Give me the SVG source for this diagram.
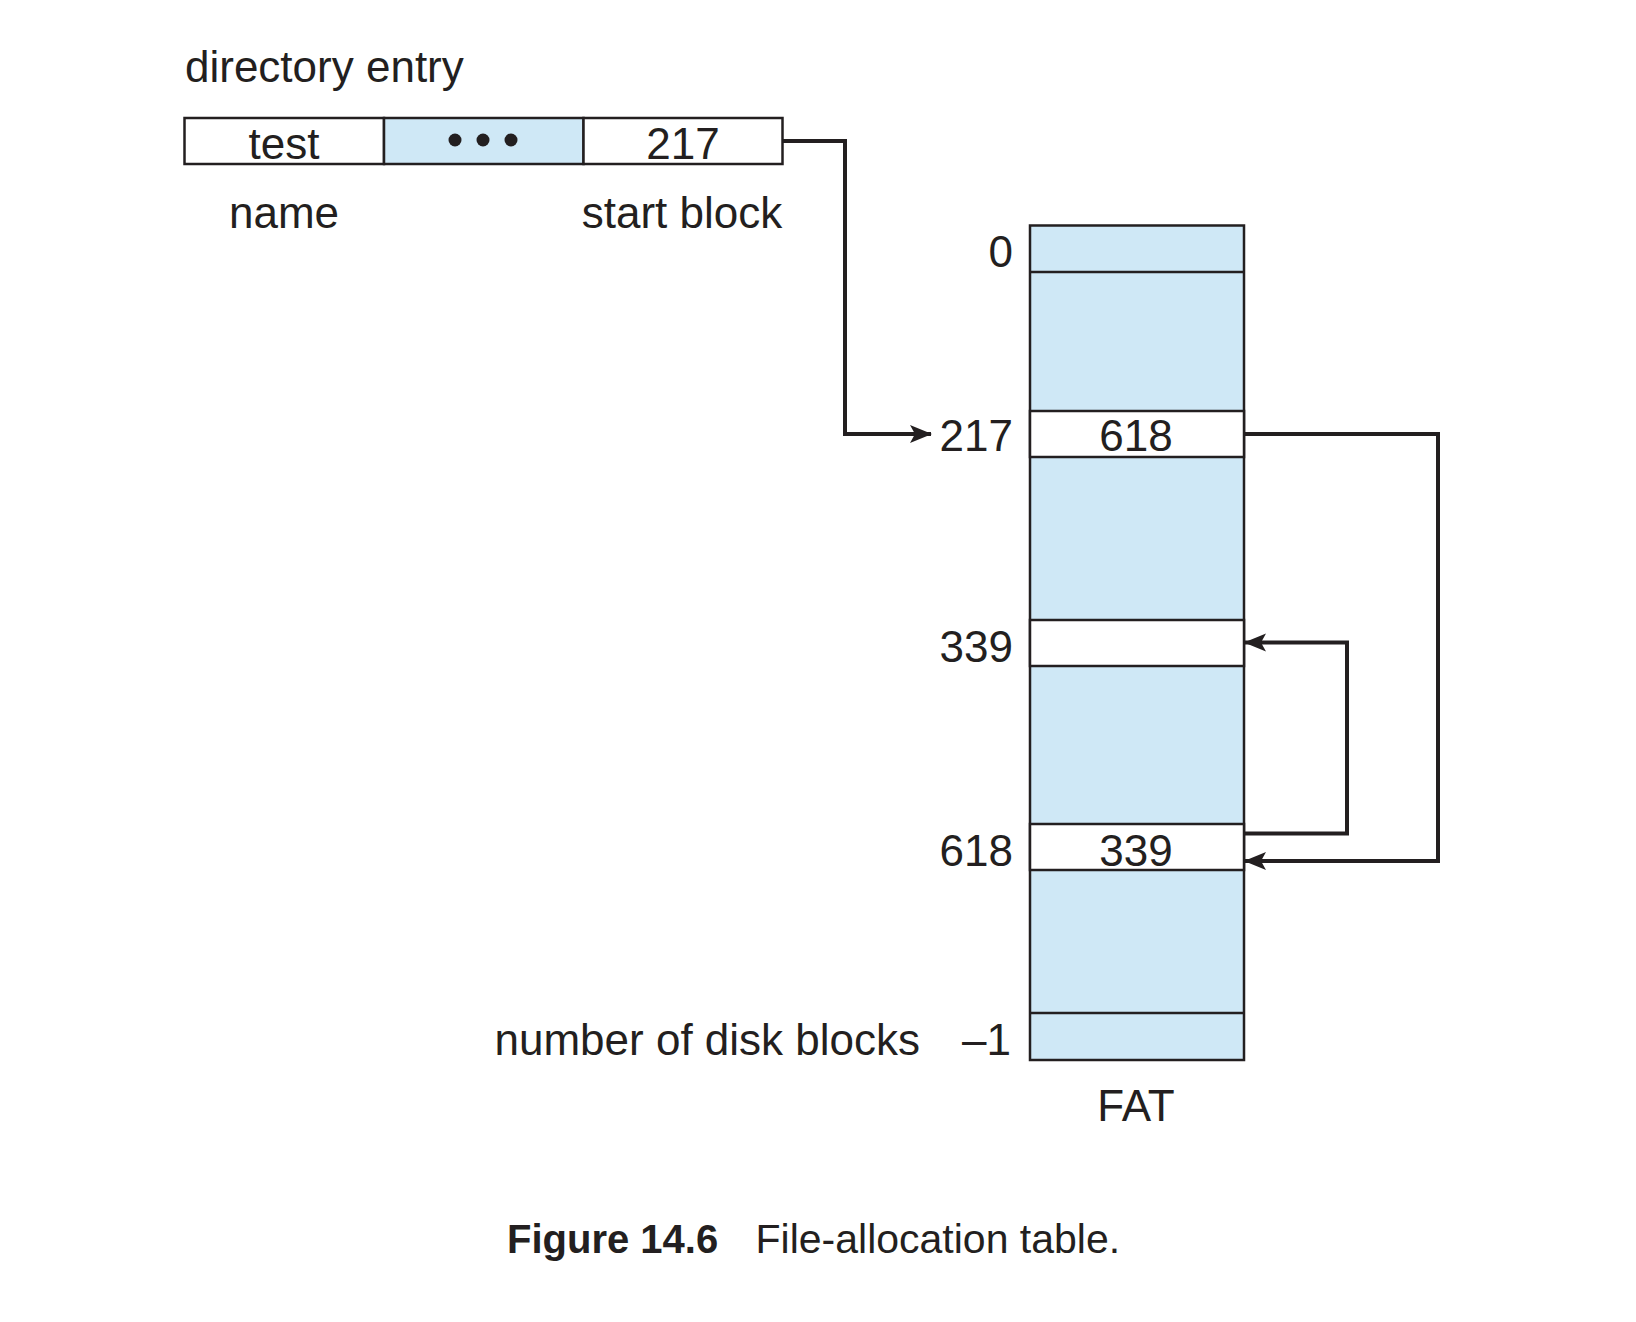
<svg xmlns="http://www.w3.org/2000/svg" width="1636" height="1322" viewBox="0 0 1636 1322">
<style>
text{font-family:"Liberation Sans",Arial,sans-serif;font-size:44px;fill:#231f20}
.c{text-anchor:middle}
.r{text-anchor:end}
.box{stroke:#231f20;stroke-width:2.5}
.blue{fill:#cfe8f6}
.white{fill:#ffffff}
.ln{stroke:#231f20;stroke-width:2.5}
.conn{fill:none;stroke:#231f20;stroke-width:4}
.cap{font-size:40px}
.capn{font-size:41px}
</style>
<defs>
<marker id="ah" markerWidth="22" markerHeight="20" refX="21" refY="10" orient="auto" markerUnits="userSpaceOnUse">
<path d="M0,1 L22,10 L0,19 L5,10 Z" fill="#231f20"/>
</marker>
</defs>
<rect width="1636" height="1322" fill="#ffffff"/>

<g id="directory-entry">
<text x="185" y="82">directory entry</text>
<rect class="box white" x="184.5" y="118" width="199.5" height="46"/>
<rect class="box blue" x="384" y="118" width="199.5" height="46"/>
<rect class="box white" x="583.5" y="118" width="199" height="46"/>
<text class="c" x="284" y="158.5">test</text>
<circle cx="455" cy="140" r="6.5" fill="#231f20"/>
<circle cx="483" cy="140" r="6.5" fill="#231f20"/>
<circle cx="511" cy="140" r="6.5" fill="#231f20"/>
<text class="c" x="683" y="158.5">217</text>
<text class="c" x="284" y="227.5">name</text>
<text class="c" x="682" y="227.5">start block</text>
</g>

<g id="fat">
<rect class="box blue" x="1030" y="225.5" width="214" height="834.5"/>
<line class="ln" x1="1030" y1="272" x2="1244" y2="272"/>
<rect class="box white" x="1030" y="411" width="214" height="46"/>
<rect class="box white" x="1030" y="620" width="214" height="46"/>
<rect class="box white" x="1030" y="824" width="214" height="46"/>
<line class="ln" x1="1030" y1="1013" x2="1244" y2="1013"/>
<text class="c" x="1136" y="451">618</text>
<text class="c" x="1136" y="866">339</text>
<text class="r" x="1013" y="267">0</text>
<text class="r" x="1013" y="451">217</text>
<text class="r" x="1013" y="661.5">339</text>
<text class="r" x="1013" y="866">618</text>
<text class="r" x="1011" y="1055">–1</text>
<text x="494.5" y="1055">number of disk blocks</text>
<text class="c" x="1136" y="1120.5">FAT</text>
</g>

<g id="connectors">
<polyline class="conn" points="782.5,141 845,141 845,434 931,434" marker-end="url(#ah)"/>
<polyline class="conn" points="1244,434 1438,434 1438,861 1245,861" marker-end="url(#ah)"/>
<polyline class="conn" points="1244,833.5 1347,833.5 1347,642.5 1245,642.5" marker-end="url(#ah)"/>
</g>

<g id="caption">
<text class="cap" x="507" y="1253"><tspan font-weight="bold">Figure 14.6</tspan></text>
<text class="capn" x="755.5" y="1253">File-allocation table.</text>
</g>
</svg>
